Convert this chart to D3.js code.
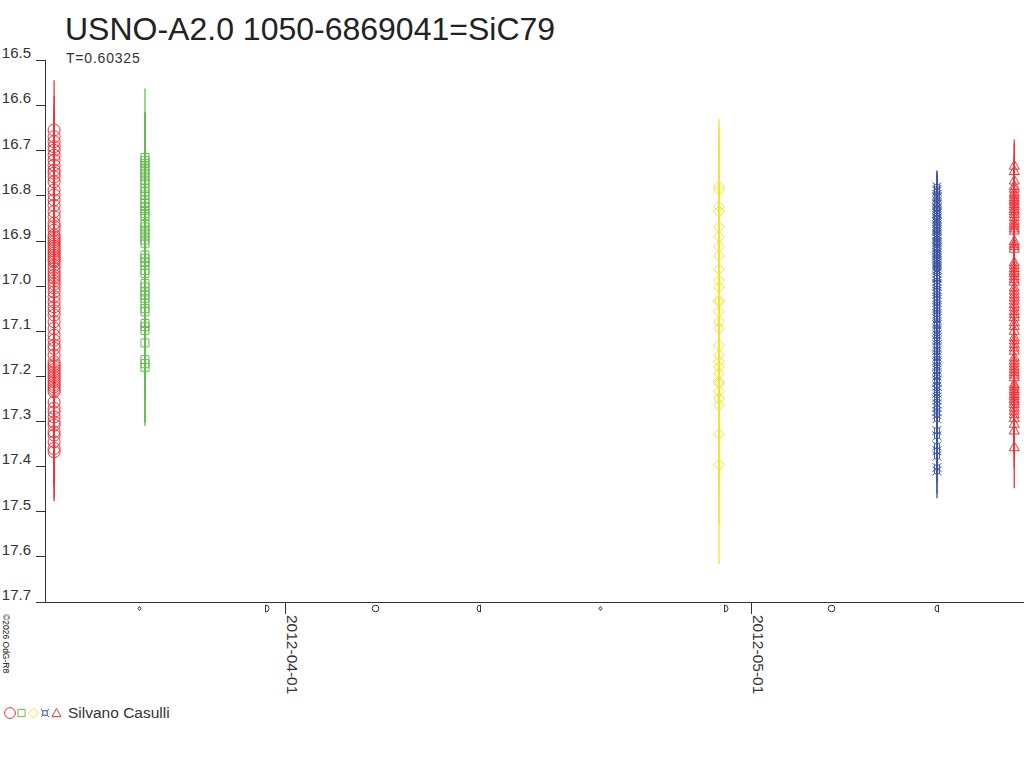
<!DOCTYPE html>
<html>
<head>
<meta charset="utf-8">
<script src="https://cdn.jsdelivr.net/npm/d3@7"></script>
<style>
  html, body { margin: 0; padding: 0; background: #fff; }
  svg { display: block; font-family: "Liberation Sans", Arial, sans-serif; }
</style>
</head>
<body>
<script>
// ---------------- DATA ----------------
const chartTitle = "USNO-A2.0 1050-6869041=SiC79";
const periodLabel = "T=0.60325";
const observer = "Silvano Casulli";
const copyright = "©2026 OdG-R8";

const yTicks = [16.5, 16.6, 16.7, 16.8, 16.9, 17.0, 17.1, 17.2, 17.3, 17.4, 17.5, 17.6, 17.7];
const xDomain = ["2012-03-16T12:56:00Z", "2012-05-18T14:34:00Z"];
const dateTicks = ["2012-04-01T00:00:00Z", "2012-05-01T00:00:00Z"];

const moonDates = ["2012-03-22T14:37:00Z", "2012-03-30T19:41:00Z", "2012-04-06T19:19:00Z", "2012-04-13T10:50:00Z",
                   "2012-04-21T07:18:00Z", "2012-04-29T09:57:00Z", "2012-05-06T03:35:00Z", "2012-05-12T21:47:00Z"];
const moonPhases = ["new", "first", "full", "last", "new", "first", "full", "last"];

const seriesNights = ["2012-03-17T03:00:00Z", "2012-03-22T23:30:00Z", "2012-04-28T23:00:00Z", "2012-05-13T00:00:00Z", "2012-05-17T23:30:00Z"];
const seriesColors = ["#ee3338", "#66bb52", "#f2e626", "#3c55a3", "#ee3338"];
const seriesShapes = ["circle", "square", "diamond", "star", "triangle"];

// [magnitude, error]
const seriesRedCircles = [
  [16.655,0.11],[16.670,0.09],[16.681,0.08],[16.692,0.07],[16.700,0.08],[16.711,0.07],[16.722,0.08],[16.733,0.07],
  [16.744,0.09],[16.751,0.07],[16.759,0.08],[16.770,0.07],[16.788,0.08],[16.799,0.07],[16.810,0.09],[16.822,0.07],
  [16.836,0.08],[16.847,0.07],[16.862,0.08],[16.869,0.09],[16.877,0.07],[16.888,0.08],[16.893,0.07],[16.898,0.09],
  [16.903,0.08],[16.908,0.07],[16.913,0.08],[16.918,0.09],[16.923,0.07],[16.928,0.08],[16.933,0.07],[16.938,0.09],
  [16.943,0.08],[16.947,0.07],[16.955,0.08],[16.962,0.09],[16.970,0.07],[16.977,0.08],[16.983,0.09],[16.990,0.08],
  [16.997,0.07],[17.005,0.09],[17.014,0.08],[17.025,0.09],[17.036,0.08],[17.047,0.09],[17.056,0.08],[17.065,0.10],
  [17.080,0.09],[17.095,0.08],[17.110,0.09],[17.121,0.10],[17.132,0.09],[17.139,0.08],[17.154,0.09],[17.169,0.10],
  [17.175,0.09],[17.180,0.08],[17.186,0.10],[17.191,0.09],[17.197,0.10],[17.202,0.09],[17.208,0.08],[17.213,0.10],
  [17.219,0.09],[17.224,0.10],[17.230,0.09],[17.235,0.08],[17.258,0.10],[17.272,0.09],[17.280,0.10],[17.291,0.09],
  [17.302,0.10],[17.309,0.09],[17.324,0.10],[17.331,0.11],[17.346,0.10],[17.361,0.11],[17.368,0.11]
];
const seriesGreenSquares = [
  [16.716,0.10],[16.723,0.16],[16.729,0.11],[16.737,0.12],[16.744,0.10],[16.751,0.13],[16.759,0.11],[16.766,0.12],
  [16.773,0.10],[16.785,0.11],[16.792,0.12],[16.799,0.10],[16.810,0.11],[16.818,0.12],[16.825,0.10],[16.833,0.11],
  [16.840,0.12],[16.847,0.10],[16.862,0.11],[16.870,0.12],[16.877,0.10],[16.884,0.11],[16.892,0.12],[16.899,0.11],
  [16.906,0.12],[16.932,0.11],[16.940,0.12],[16.947,0.11],[16.955,0.12],[16.966,0.11],[16.973,0.12],[16.995,0.12],
  [17.003,0.11],[17.014,0.12],[17.021,0.13],[17.028,0.12],[17.039,0.13],[17.051,0.12],[17.058,0.13],[17.084,0.12],
  [17.091,0.13],[17.099,0.12],[17.127,0.13],[17.164,0.14],[17.173,0.13],[17.181,0.13]
];
const seriesYellowDiamonds = [
  [16.781,0.15],[16.788,0.14],[16.825,0.15],[16.836,0.14],[16.870,0.15],[16.892,0.15],[16.914,0.16],[16.934,0.15],
  [16.964,0.16],[16.988,0.15],[17.003,0.16],[17.032,0.16],[17.036,0.17],[17.058,0.16],[17.080,0.17],[17.095,0.16],
  [17.132,0.17],[17.154,0.18],[17.169,0.17],[17.180,0.18],[17.195,0.18],[17.213,0.19],[17.217,0.18],[17.235,0.19],
  [17.250,0.20],[17.265,0.19],[17.329,0.20],[17.397,0.22]
];
const seriesBlueStars = [
  [16.781,0.036],[16.787,0.040],[16.791,0.038],[16.798,0.041],[16.803,0.039],[16.806,0.042],[16.812,0.040],[16.818,0.038],
  [16.821,0.041],[16.827,0.039],[16.830,0.042],[16.834,0.040],[16.839,0.041],[16.841,0.039],[16.846,0.042],[16.850,0.040],
  [16.853,0.041],[16.858,0.043],[16.861,0.040],[16.866,0.042],[16.869,0.041],[16.873,0.043],[16.877,0.040],[16.880,0.042],
  [16.886,0.044],[16.889,0.041],[16.893,0.043],[16.897,0.042],[16.902,0.044],[16.905,0.041],[16.909,0.043],[16.914,0.045],
  [16.917,0.042],[16.921,0.044],[16.926,0.043],[16.929,0.045],[16.933,0.042],[16.938,0.044],[16.942,0.046],[16.945,0.043],
  [16.950,0.045],[16.954,0.044],[16.958,0.046],[16.963,0.043],[16.967,0.045],[16.972,0.047],[16.979,0.044],[16.983,0.046],
  [16.990,0.045],[16.996,0.047],[17.001,0.044],[17.008,0.046],[17.013,0.048],[17.019,0.045],[17.026,0.047],[17.031,0.046],
  [17.037,0.048],[17.044,0.045],[17.049,0.047],[17.055,0.049],[17.062,0.046],[17.068,0.048],[17.074,0.047],[17.082,0.049],
  [17.087,0.046],[17.095,0.048],[17.101,0.050],[17.109,0.047],[17.116,0.049],[17.122,0.048],[17.131,0.050],[17.137,0.047],
  [17.144,0.049],[17.152,0.051],[17.158,0.048],[17.166,0.050],[17.171,0.049],[17.179,0.051],[17.187,0.048],[17.193,0.050],
  [17.200,0.052],[17.209,0.049],[17.214,0.051],[17.223,0.050],[17.231,0.052],[17.238,0.049],[17.247,0.051],[17.253,0.053],
  [17.262,0.050],[17.270,0.052],[17.279,0.051],[17.286,0.053],[17.295,0.050],[17.321,0.055],[17.333,0.054],[17.355,0.056],
  [17.366,0.055],[17.378,0.057],[17.403,0.058],[17.411,0.060]
];
const seriesRedTriangles = [
  [16.733,0.057],[16.745,0.060],[16.766,0.058],[16.778,0.061],[16.784,0.059],[16.792,0.062],[16.797,0.060],[16.803,0.061],
  [16.808,0.063],[16.812,0.060],[16.818,0.062],[16.823,0.061],[16.829,0.063],[16.834,0.062],[16.840,0.064],[16.847,0.061],
  [16.855,0.063],[16.861,0.065],[16.866,0.062],[16.872,0.064],[16.877,0.063],[16.900,0.066],[16.906,0.064],[16.911,0.065],
  [16.917,0.067],[16.947,0.066],[16.953,0.068],[16.960,0.067],[16.966,0.069],[16.971,0.066],[16.978,0.068],[16.984,0.070],
  [16.990,0.067],[17.003,0.069],[17.010,0.071],[17.018,0.068],[17.025,0.070],[17.032,0.072],[17.040,0.069],[17.047,0.071],
  [17.055,0.073],[17.062,0.070],[17.069,0.072],[17.080,0.074],[17.088,0.071],[17.099,0.073],[17.113,0.075],[17.120,0.072],
  [17.128,0.074],[17.136,0.076],[17.143,0.073],[17.158,0.075],[17.165,0.077],[17.171,0.074],[17.178,0.076],[17.184,0.078],
  [17.190,0.075],[17.196,0.077],[17.202,0.079],[17.217,0.076],[17.222,0.078],[17.228,0.080],[17.233,0.077],[17.239,0.079],
  [17.244,0.081],[17.250,0.078],[17.255,0.080],[17.261,0.082],[17.269,0.079],[17.276,0.081],[17.284,0.083],[17.292,0.080],
  [17.305,0.084],[17.320,0.086],[17.357,0.092]
];
const seriesData = [seriesRedCircles, seriesGreenSquares, seriesYellowDiamonds, seriesBlueStars, seriesRedTriangles];

// ---------------- DRAW ----------------
const W = 1024, H = 768;
const svg = d3.select("body").append("svg").attr("width", W).attr("height", H);

const x = d3.scaleUtc().domain(xDomain.map(d => new Date(d))).range([45, 1024]);
const y = d3.scaleLinear().domain([16.5, 17.7]).range([60, 601.5]);
const axisColor = "#333";

function shapePath(shape, s) {
  s = s || 1;
  switch (shape) {
    case "circle": return d3.symbol(d3.symbolCircle, Math.PI * 36 * s * s)();
    case "square": return `M${-4*s},${-4*s}h${8*s}v${8*s}h${-8*s}Z`;
    case "diamond": return `M0,${-5.5*s}L${5.5*s},0L0,${5.5*s}L${-5.5*s},0Z`;
    case "star": return `M${-2.5*s},${-2.5*s}h${5*s}v${5*s}h${-5*s}Z` +
      `M${-2.5*s},${-2.5*s}l${-2*s},${-2*s}M${2.5*s},${-2.5*s}l${2*s},${-2*s}` +
      `M${2.5*s},${2.5*s}l${2*s},${2*s}M${-2.5*s},${2.5*s}l${-2*s},${2*s}`;
    case "triangle": return `M0,${-5*s}L${5*s},${4*s}L${-5*s},${4*s}Z`;
  }
}

// Y axis
const yAxis = d3.axisLeft(y).tickValues(yTicks).tickSize(9).tickFormat(d3.format(".1f"));
const gy = svg.append("g").attr("transform", "translate(45,0)").call(yAxis);
gy.select(".domain").attr("stroke", axisColor).attr("d", `M-9,${y(16.5)}H0V602`).attr("shape-rendering", "crispEdges");
gy.selectAll(".tick line").attr("stroke", axisColor).attr("shape-rendering", "crispEdges");
gy.selectAll(".tick text").attr("x", -14).attr("dy", "-0.15em").attr("fill", "#333")
  .style("font-size", "15px").style("font-family", "'Liberation Sans', Arial, sans-serif");

// X axis
const xAxis = d3.axisBottom(x).tickValues(dateTicks.map(d => new Date(d))).tickSize(12).tickFormat(d3.utcFormat("%Y-%m-%d"));
const gx = svg.append("g").attr("transform", "translate(0,602)").call(xAxis);
gx.select(".domain").attr("stroke", axisColor).attr("d", "M45,0H1024").attr("shape-rendering", "crispEdges");
gx.selectAll(".tick line").attr("stroke", axisColor).attr("shape-rendering", "crispEdges");
gx.selectAll(".tick text").attr("transform", "translate(-1.5,13) rotate(90)").attr("x", 0).attr("y", 0).attr("dy", "0")
  .attr("text-anchor", "start").attr("dominant-baseline", "text-after-edge").attr("fill", "#333")
  .style("font-size", "15.5px").style("font-family", "'Liberation Sans', Arial, sans-serif");

// Moon phase symbols
const moonG = svg.append("g").attr("fill", "none").attr("stroke", "#333").attr("stroke-width", 1);
moonDates.forEach((d, i) => {
  const cx = Math.round(x(new Date(d))) + 0.5, cy = 608.5;
  const ph = moonPhases[i];
  let p;
  if (ph === "new") p = `M${cx},${cy-2}L${cx+1.5},${cy}L${cx},${cy+2}L${cx-1.5},${cy}Z`;
  else if (ph === "first") p = `M${cx-2},${cy-3.5}V${cy+3.5}A3.5,3.5 0 0 0 ${cx-2},${cy-3.5}Z`;
  else if (ph === "last") p = `M${cx+2},${cy-3.5}V${cy+3.5}A3.5,3.5 0 0 1 ${cx+2},${cy-3.5}Z`;
  else p = null;
  if (p) moonG.append("path").attr("d", p);
  else moonG.append("circle").attr("cx", cx).attr("cy", cy).attr("r", 3.3);
});

// Data series
seriesData.forEach((pts, si) => {
  const col = seriesColors[si];
  const px = x(new Date(seriesNights[si]));
  const g = svg.append("g");
  g.selectAll("line").data(pts).join("line")
    .attr("x1", px).attr("x2", px)
    .attr("y1", d => y(d[0] - d[1])).attr("y2", d => y(d[0] + d[1]))
    .attr("stroke", col).attr("stroke-width", 1.3);
  g.selectAll("path").data(pts).join("path")
    .attr("transform", d => `translate(${px},${y(d[0])})`)
    .attr("d", shapePath(seriesShapes[si]))
    .attr("fill", "none").attr("stroke", col).attr("stroke-width", 1);
});

// Titles
svg.append("text").attr("x", 65).attr("y", 40).text(chartTitle)
  .attr("fill", "#222").style("font-size", "32px");
svg.append("text").attr("x", 66).attr("y", 63).text(periodLabel)
  .attr("fill", "#333").style("font-size", "14px").style("letter-spacing", "0.8px");

// Copyright (rotated)
svg.append("text").attr("transform", "translate(0.5,614) rotate(90)").text(copyright)
  .attr("dominant-baseline", "text-after-edge").attr("fill", "#111").style("font-size", "8.5px");

// Legend
const legG = svg.append("g");
const legX = [10, 21.5, 33.5, 45, 56.5];
seriesShapes.forEach((s, i) => {
  legG.append("path").attr("transform", `translate(${legX[i]},713)`)
    .attr("d", shapePath(s, 0.9)).attr("fill", "none").attr("stroke", seriesColors[i]).attr("stroke-width", 1);
});
legG.append("text").attr("x", 68).attr("y", 718).text(observer)
  .attr("fill", "#333").style("font-size", "15.5px");
</script>
</body>
</html>
